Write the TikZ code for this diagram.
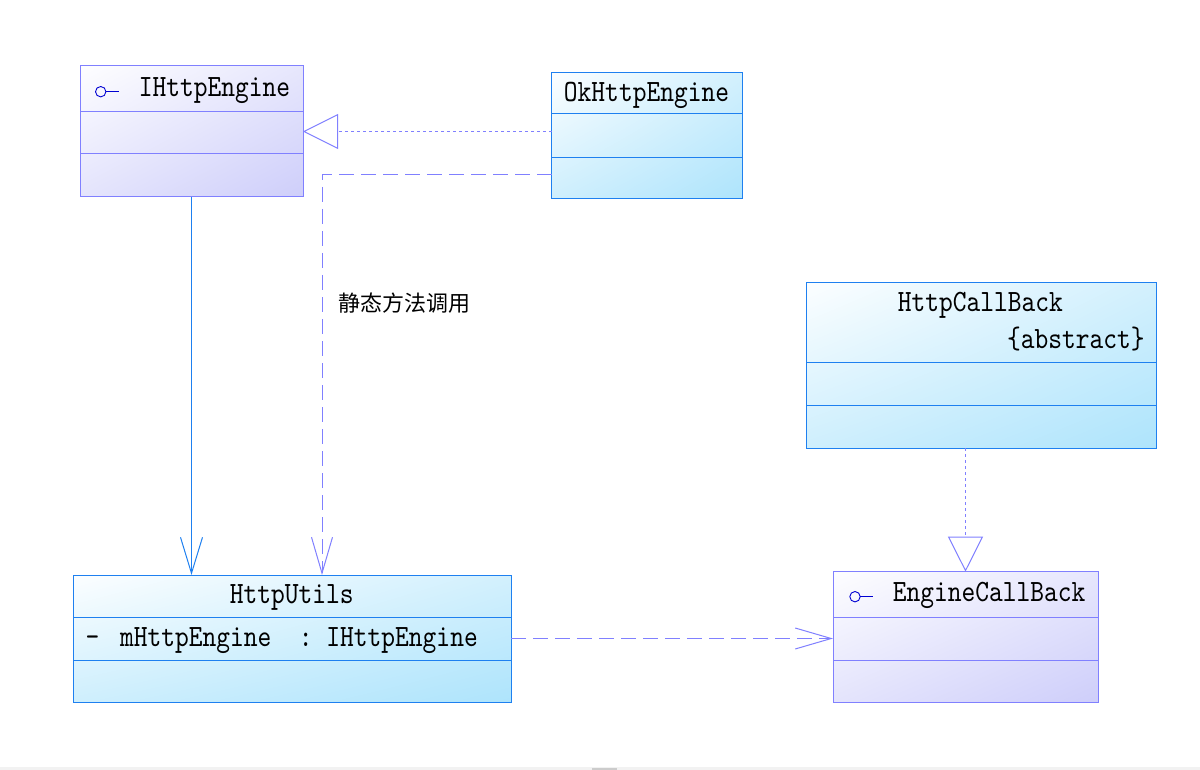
\documentclass[tikz,border=0pt]{standalone}
\usepackage{fontspec}
\usetikzlibrary{arrows.meta,shadings}
\newfontfamily\umlfont[FakeStretch=0.845]{lmmono10-regular.otf}
\newfontfamily\cjkfont{Noto Sans CJK SC}
\definecolor{iborder}{RGB}{128,128,255}
\definecolor{ifill}{RGB}{206,206,250}
\definecolor{cborder}{RGB}{30,128,240}
\definecolor{cfill}{RGB}{174,228,252}
\definecolor{iconblue}{RGB}{0,0,210}
\begin{document}
\begin{tikzpicture}[x=1pt,y=-1pt,
  ibox/.style={draw=iborder, line width=1pt, rectangle, inner sep=0pt, outer sep=0pt, anchor=north west,
    upper left=white!97!ifill, upper right=white!50!ifill, lower left=white!45!ifill, lower right=ifill},
  cbox/.style={draw=cborder, line width=1pt, rectangle, inner sep=0pt, outer sep=0pt, anchor=north west,
    upper left=white!96!cfill, upper right=white!45!cfill, lower left=white!40!cfill, lower right=cfill},
  idiv/.style={draw=iborder, line width=1pt},
  cdiv/.style={draw=cborder, line width=1pt},
  umltxt/.style={font=\umlfont\fontsize{31}{36}\selectfont, inner sep=0pt, anchor=base, text=black},
  cjktxt/.style={font=\cjkfont\fontsize{22}{26}\selectfont, inner sep=0pt, text=black},
  icon/.style={draw=iconblue, line width=0.9pt},
  realize/.style={draw=iborder, line width=1pt, dash pattern=on 3pt off 3pt,
    -{Triangle[open, length=35pt, width=35pt, fill=white]}},
  depend/.style={draw=iborder, line width=1pt, dash pattern=on 15pt off 7pt,
    -{Straight Barb[length=36pt, width=21pt]}},
  assoc/.style={draw=cborder, line width=1pt, -{Straight Barb[length=36pt, width=22pt]}}
]
\fill[white] (0,0) rectangle (1200,770);
\useasboundingbox (0,0) rectangle (1200,770);
\fill[gray!10] (0,767) rectangle (1200,770);
\fill[gray!40] (592,767.5) rectangle (617,770);

% boxes
\node[ibox, minimum width=223pt, minimum height=131pt] (ihttp) at (80,66) {};
\node[cbox, minimum width=190.5pt, minimum height=126pt] (okhttp) at (551.5,72.5) {};
\node[cbox, minimum width=438pt, minimum height=127pt] (httputils) at (73,575) {};
\node[cbox, minimum width=350pt, minimum height=165pt] (httpcb) at (806,283) {};
\node[ibox, minimum width=265pt, minimum height=130.6pt] (enginecb) at (833,571.7) {};

% dividers
\draw[idiv] ([yshift=-46pt]ihttp.north west) -- ([yshift=-46pt]ihttp.north east);
\draw[idiv] ([yshift=-88pt]ihttp.north west) -- ([yshift=-88pt]ihttp.north east);
\draw[cdiv] ([yshift=-41.5pt]okhttp.north west) -- ([yshift=-41.5pt]okhttp.north east);
\draw[cdiv] ([yshift=-84.8pt]okhttp.north west) -- ([yshift=-84.8pt]okhttp.north east);
\draw[cdiv] ([yshift=-42.7pt]httputils.north west) -- ([yshift=-42.7pt]httputils.north east);
\draw[cdiv] ([yshift=-85.3pt]httputils.north west) -- ([yshift=-85.3pt]httputils.north east);
\draw[cdiv] ([yshift=-79pt]httpcb.north west) -- ([yshift=-79pt]httpcb.north east);
\draw[cdiv] ([yshift=-122pt]httpcb.north west) -- ([yshift=-122pt]httpcb.north east);
\draw[idiv] ([yshift=-45.6pt]enginecb.north west) -- ([yshift=-45.6pt]enginecb.north east);
\draw[idiv] ([yshift=-88.3pt]enginecb.north west) -- ([yshift=-88.3pt]enginecb.north east);

% interface icons
\draw[icon] (100.7,91.7) circle (5.2);
\draw[icon] (105.9,91.7) -- (119.3,91.7);
\draw[icon] (855,596.7) circle (5.2);
\draw[icon] (860.2,596.7) -- (873,596.7);

% texts
\node[umltxt] (ihttpname) at (214.5,97) {IHttpEngine};
\node[umltxt] (okhttpname) at (646.5,101.7) {OkHttpEngine};
\node[umltxt] (httputilsname) at (291.7,603.3) {HttpUtils};
\node[umltxt] (attrvis) at (92.5,646.7) {-};
\node[umltxt] (attr) at (299,646.7) {mHttpEngine\ \ :\ IHttpEngine};
\node[umltxt] (httpcbname) at (980.3,311.7) {HttpCallBack};
\node[umltxt] (httpcbabs) at (1075.8,348.3) {\{abstract\}};
\node[umltxt] (enginecbname) at (989.2,601.7) {EngineCallBack};
\node[cjktxt] (label) at (404.7,303.3) {静态方法调用};

% connectors
\draw[realize] (okhttp.west |- ihttp.east) -- (ihttp.east);
\coordinate (bend) at ([xshift=249pt]httputils.north west);
\draw[depend] ([yshift=-102pt]okhttp.north west) -| (bend);
\draw[assoc] (ihttp.south) -- (ihttp.south |- httputils.north);
\draw[depend] (httputils.east) -- (httputils.east -| enginecb.west);
\draw[realize] (enginecb.north |- httpcb.south) -- (enginecb.north);
\end{tikzpicture}
\end{document}
